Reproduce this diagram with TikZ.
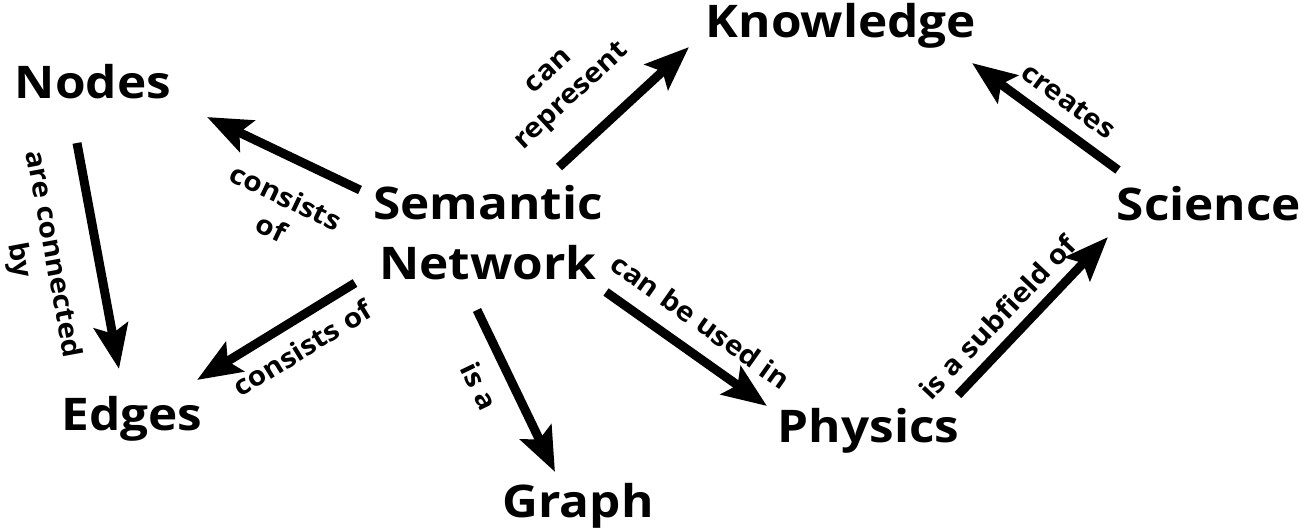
\documentclass[tikz,border=0pt]{standalone}
\usepackage{fontspec}
\setmainfont{Open Sans}
\newfontfamily\widesans{Open Sans}[FakeStretch=1.1]
\usetikzlibrary{arrows.meta}
\begin{document}
\begin{tikzpicture}[x=1pt,y=-1pt,
  concept/.style={font=\widesans\fontsize{45}{60}\selectfont\bfseries, inner sep=0pt, align=center},
  rel/.style={line width=9pt, -{Stealth[length=44pt,width=34pt,inset=8pt]}},
  lbl/.style={font=\widesans\fontsize{27}{34}\selectfont\bfseries, sloped, inner sep=0pt, align=center}]
\useasboundingbox (0,0) rectangle (1300,531);
\node[concept, anchor=base] (nodes) at (93,98) {Nodes};
\node[concept, anchor=base] (know) at (841,37) {Knowledge};
\node[concept, anchor=base] (graph) at (578,517) {Graph};
\node[concept, anchor=base] (sci) at (1209,220) {Science};
\node[concept, anchor=base] (phys) at (868.5,442) {Physics};
\node[concept, anchor=base] (edges) at (132,430) {Edges};
\node[concept] (sn) at (488,233) {Semantic\\Network};

\draw[rel] ([shift={(-128,-43)}]sn.center) -- node[lbl, pos=0.376, yshift=-55pt] (l1) {consists\\of} ([shift={(114,19)}]nodes.base);
\draw[rel] ([shift={(-133,50)}]sn.center) -- node[lbl, pos=0.426, yshift=-28pt] (l2) {consists of} ([shift={(65,-50)}]edges.base);
\draw[rel] ([shift={(-16,45)}]nodes.base) -- node[lbl, pos=0.457, yshift=-62pt] (l3) {are connected\\by} ([shift={(-13,-61)}]edges.base);
\draw[rel] ([shift={(71,-66)}]sn.center) -- node[lbl, pos=0.324, yshift=58pt] (l4) {can\\represent} ([shift={(-152,10)}]know.base);
\draw[rel] ([shift={(-11,77)}]sn.center) -- node[lbl, pos=0.386, yshift=-31pt] (l5) {is a} ([shift={(-23,-45)}]graph.base);
\draw[rel] ([shift={(118,59)}]sn.center) -- node[lbl, pos=0.478, yshift=31pt] (l6) {can be used in} ([shift={(-101.5,-36)}]phys.base);
\draw[rel] ([shift={(89.5,-47)}]phys.base) -- node[lbl, pos=0.383, yshift=25pt] (l7) {is a subfield of} ([shift={(-101,17)}]sci.base);
\draw[rel] ([shift={(-91,-50)}]sci.base) -- node[lbl, pos=0.446, yshift=26pt] (l8) {creates} ([shift={(131,26)}]know.base);
\end{tikzpicture}
\end{document}
